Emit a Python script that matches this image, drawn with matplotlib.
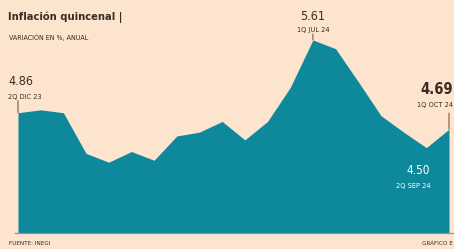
import matplotlib.pyplot as plt
import numpy as np

# Quincenal inflation, 2Q Dic 23 .. 1Q Oct 24 (annual % change)
periods = ["2Q DIC 23", "1Q ENE 24", "2Q ENE 24", "1Q FEB 24", "2Q FEB 24",
           "1Q MAR 24", "2Q MAR 24", "1Q ABR 24", "2Q ABR 24", "1Q MAY 24",
           "2Q MAY 24", "1Q JUN 24", "2Q JUN 24", "1Q JUL 24", "2Q JUL 24",
           "1Q AGO 24", "2Q AGO 24", "1Q SEP 24", "2Q SEP 24", "1Q OCT 24"]
values = [4.86, 4.89, 4.86, 4.44, 4.35, 4.46, 4.37, 4.62, 4.66, 4.77,
          4.58, 4.77, 5.12, 5.61, 5.52, 5.18, 4.83, 4.66, 4.50, 4.69]

BG = "#fce4cf"
TEAL = "#0e899c"
DARK = "#3b2b22"

plt.rcParams['font.family'] = ['DejaVu Sans']
plt.rcParams['font.stretch'] = 'condensed'

W, H = 454, 249
fig = plt.figure(figsize=(W / 100, H / 100), dpi=100, facecolor=BG)
ax = fig.add_axes([0, 0, 1, 1])
ax.set_facecolor(BG)
ax.set_axis_off()

x = np.arange(len(values))
base = 3.62
# index 0 at 18px, last at 449px; 97 px per percentage point
pxx = (449 - 18) / (len(values) - 1)
ax.set_xlim(-18 / pxx, (len(values) - 1) + (W - 449) / pxx)
ax.set_ylim(base - 16 / 97, base + 233 / 97)

ax.fill_between(x, values, base, color=TEAL, lw=0)
ax.plot([-0.15, ax.get_xlim()[1]], [base, base], color="#9c8f86", lw=0.9)

# title block
fig.text(8 / W, 1 - 20 / H, "Inflación quincenal |", fontsize=8, fontweight='bold',
         color=DARK, ha='left', va='baseline')
fig.text(9 / W, 1 - 40 / H, "VARIACIÓN EN %, ANUAL", fontsize=5.1, color=DARK,
         ha='left', va='baseline')

def mark(i, y1px):
    # short vertical tick above a data point
    ax.annotate("", xy=(x[i], values[i]), xytext=(0, y1px), textcoords='offset pixels',
                arrowprops=dict(arrowstyle='-', color="#7a5a48", lw=0.8,
                                shrinkA=0, shrinkB=0))

# first point
i0 = 0
mark(i0, 12)
ax.annotate(f"{values[i0]:.2f}", (x[i0], values[i0]), xytext=(-10, 28),
            textcoords='offset pixels', fontsize=9, color=DARK, ha='left', va='baseline')
ax.annotate(periods[i0], (x[i0], values[i0]), xytext=(-10, 14),
            textcoords='offset pixels', fontsize=5.3, color=DARK, ha='left', va='baseline')

# peak
ip = int(np.argmax(values))
mark(ip, 6)
ax.annotate(f"{values[ip]:.2f}", (x[ip], values[ip]), xytext=(0, 20),
            textcoords='offset pixels', fontsize=9, color=DARK, ha='center', va='baseline')
ax.annotate(periods[ip], (x[ip], values[ip]), xytext=(0, 8),
            textcoords='offset pixels', fontsize=5.3, color=DARK, ha='center', va='baseline')

# last point (kept inside the right edge)
il = len(values) - 1
mark(il, 16)
ax.annotate(f"{values[il]:.2f}", (x[il], values[il]), xytext=(4, 35),
            textcoords='offset pixels', fontsize=10.5, fontweight='bold', color=DARK,
            ha='right', va='baseline', annotation_clip=False)
ax.annotate(periods[il], (x[il], values[il]), xytext=(4, 22),
            textcoords='offset pixels', fontsize=5.3, color=DARK, ha='right', va='baseline',
            annotation_clip=False)

# September low (inside the fill)
im = 18
ax.annotate(f"{values[im]:.2f}", (x[im], values[im]), xytext=(4, -26),
            textcoords='offset pixels', fontsize=8.5, color="white", ha='right', va='baseline')
ax.annotate(periods[im], (x[im], values[im]), xytext=(4, -40),
            textcoords='offset pixels', fontsize=5.3, color="white", ha='right', va='baseline')

# footer
fig.text(9 / W, 1 - 245 / H, "FUENTE: INEGI", fontsize=4.6, color=DARK,
         ha='left', va='baseline')
fig.text(453 / W, 1 - 245 / H, "GRÁFICO E", fontsize=4.6, color=DARK,
         ha='right', va='baseline')

fig.savefig("out.png", dpi=100, facecolor=BG)
